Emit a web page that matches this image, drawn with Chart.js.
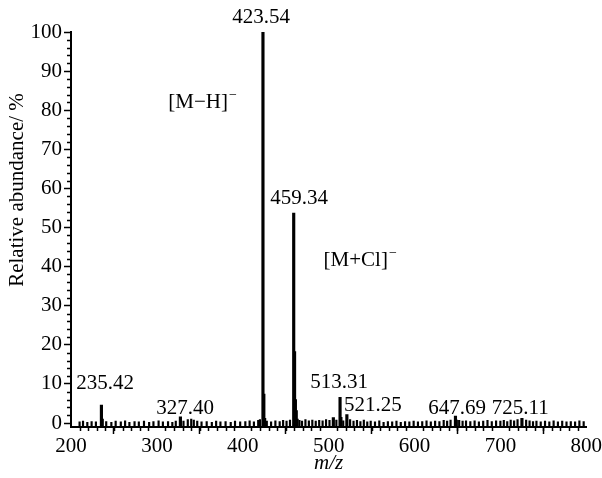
<!DOCTYPE html>
<html lang="en">
<head>
  <meta charset="UTF-8" />
  <title>Mass spectrum</title>
  <script src="https://cdn.jsdelivr.net/npm/chart.js"></script>
  <style>
    body { margin: 0; background: #fff; }
    #wrap { width: 602px; height: 478px; position: relative; }
  </style>
</head>
<body>
  <div id="wrap"><canvas id="ms"></canvas></div>

  <script>
    // main peaks (m/z, relative abundance %)
    const peakMz = [235.42, 236.4, 327.40, 423.54, 424.55, 425.5, 459.34, 460.35, 461.3, 462.3, 463.3,
                    505.5, 513.31, 514.3, 521.25, 647.69, 648.7, 725.11];
    const peakAb = [4.6, 1.0, 1.6, 100, 7.4, 1.2, 53.7, 18.3, 6.0, 3.2, 1.0,
                    1.4, 6.6, 1.5, 2.2, 1.8, 0.8, 1.2];

    // baseline noise
    const noiseMz = [210, 214, 219, 224, 229, 241, 247, 252, 258, 263, 268, 274, 279, 285, 291, 296,
                     302, 307, 313, 318, 322, 331, 336, 340, 343, 347, 352, 358, 364, 369, 374, 380,
                     386, 391, 397, 403, 408, 413, 418, 420, 428, 433, 438, 443, 447, 451, 455, 466,
                     469, 473, 477, 481, 485, 489, 493, 497, 501, 509, 517, 525, 529, 533, 537, 541,
                     545, 549, 554, 559, 564, 569, 574, 579, 584, 589, 594, 599, 604, 609, 614, 619,
                     624, 629, 634, 638, 642, 652, 656, 660, 665, 670, 675, 680, 685, 690, 695, 700,
                     704, 708, 712, 716, 720, 730, 734, 738, 742, 747, 752, 757, 762, 767, 772, 777,
                     782, 787, 792, 797];
    const noiseAb = [0.3, 0.5, 0.2, 0.4, 0.3, 0.4, 0.2, 0.5, 0.3, 0.6, 0.2, 0.4, 0.3, 0.5, 0.2, 0.4,
                     0.6, 0.3, 0.4, 0.2, 0.5, 0.5, 0.9, 1.0, 0.8, 0.5, 0.3, 0.4, 0.2, 0.5, 0.3, 0.4,
                     0.2, 0.5, 0.3, 0.4, 0.6, 0.3, 0.7, 0.9, 0.5, 0.3, 0.6, 0.4, 0.7, 0.5, 0.8, 0.7,
                     0.5, 0.9, 0.6, 0.8, 0.5, 0.7, 0.6, 0.9, 0.7, 0.8, 0.6, 0.9, 0.5, 0.7, 0.4, 0.8,
                     0.3, 0.5, 0.3, 0.6, 0.2, 0.4, 0.3, 0.5, 0.2, 0.4, 0.3, 0.5, 0.3, 0.4, 0.6, 0.3,
                     0.5, 0.4, 0.7, 0.5, 0.8, 0.7, 0.5, 0.6, 0.4, 0.6, 0.3, 0.5, 0.7, 0.4, 0.6, 0.5,
                     0.7, 0.4, 0.8, 0.6, 0.9, 0.8, 0.6, 0.4, 0.5, 0.3, 0.5, 0.3, 0.6, 0.3, 0.5, 0.3,
                     0.4, 0.3, 0.6, 0.4];

    const xTicks = [200, 300, 400, 500, 600, 700, 800];
    const yTicks = [0, 10, 20, 30, 40, 50, 60, 70, 80, 90, 100];

    // peak labels: text, anchor m/z, anchor abundance
    const labelText = ['423.54', '459.34', '235.42', '327.40', '513.31', '521.25', '647.69', '725.11'];
    const labelMz   = [421.4, 465.6, 239.6, 332.8, 512.2, 551.5, 649.7, 723.1];
    const labelAb   = [103.6, 57.5, 10.0, 3.8, 10.5, 4.6, 3.8, 3.8];

    // ion labels
    const ionText = ['[M\u2212H]', '[M+Cl]'];
    const ionMz   = [348, 531.6];
    const ionAb   = [82.1, 41.7];

    const Y_MIN = -1;
    const FONT = '"Liberation Serif", "Times New Roman", serif';

    const toXY = (xs, ys) => xs.map((x, i) => ({ x: x, y: ys[i] }));

    const textPlugin = {
      id: 'msText',
      afterDraw(chart) {
        const ctx = chart.ctx;
        const xs = chart.scales.x, ys = chart.scales.y;
        const area = chart.chartArea;
        ctx.save();
        ctx.strokeStyle = '#000';
        ctx.lineWidth = 1.5;
        // minor ticks
        ctx.beginPath();
        for (let v = 2; v < 100; v += 2) {
          if (v % 10 === 0) continue;
          const py = Math.round(ys.getPixelForValue(v)) + 0.5;
          ctx.moveTo(area.left - 4, py);
          ctx.lineTo(area.left, py);
        }
        for (let v = 210; v < 800; v += 10) {
          if (v % 100 === 0) continue;
          const px = Math.round(xs.getPixelForValue(v)) + 0.5;
          ctx.moveTo(px, area.bottom);
          ctx.lineTo(px, area.bottom + 4);
        }
        ctx.stroke();

        ctx.fillStyle = '#000';
        ctx.font = '21px ' + FONT;
        ctx.textAlign = 'center';
        ctx.textBaseline = 'middle';
        labelText.forEach((t, i) => {
          ctx.fillText(t, xs.getPixelForValue(labelMz[i]), ys.getPixelForValue(labelAb[i]));
        });
        ionText.forEach((t, i) => {
          const px = xs.getPixelForValue(ionMz[i]);
          const py = ys.getPixelForValue(ionAb[i]);
          ctx.font = '21px ' + FONT;
          ctx.textAlign = 'center';
          ctx.fillText(t, px, py);
          const w = ctx.measureText(t).width;
          ctx.font = '14px ' + FONT;
          ctx.textAlign = 'left';
          ctx.fillText('\u2212', px + w / 2 + 1, py - 7);
        });

        // axis titles
        ctx.font = '21px ' + FONT;
        ctx.textAlign = 'center';
        ctx.save();
        ctx.translate(17, 190);
        ctx.rotate(-Math.PI / 2);
        ctx.fillText('Relative abundance/ %', 0, 0);
        ctx.restore();
        ctx.font = 'italic 21px ' + FONT;
        ctx.fillText('m/z', (area.left + area.right) / 2, 463);
        ctx.restore();
      }
    };

    new Chart(document.getElementById('ms'), {
      type: 'bar',
      data: {
        datasets: [
          {
            data: toXY(noiseMz, noiseAb),
            backgroundColor: '#000',
            barThickness: 1.5,
            base: Y_MIN,
            grouped: false
          },
          {
            data: toXY(peakMz, peakAb),
            backgroundColor: '#000',
            barThickness: 2.5,
            base: Y_MIN,
            grouped: false
          }
        ]
      },
      options: {
        responsive: true,
        maintainAspectRatio: false,
        animation: false,
        layout: { padding: { top: 32, right: 14, left: 0, bottom: 0 } },
        plugins: {
          legend: { display: false },
          tooltip: { enabled: false },
          title: { display: false }
        },
        scales: {
          x: {
            type: 'linear',
            min: 200,
            max: 800,
            offset: false,
            afterFit: s => { s.height = 51; },
            afterBuildTicks: s => { s.ticks = xTicks.map(v => ({ value: v })); },
            grid: { drawOnChartArea: false, color: '#000', tickColor: '#000', tickLength: 7, tickWidth: 1.5 },
            border: { display: true, color: '#000', width: 2 },
            ticks: { color: '#000', padding: 0, maxRotation: 0, font: { family: FONT, size: 21 } }
          },
          y: {
            min: Y_MIN,
            max: 100,
            afterFit: s => { s.width = 71; },
            afterBuildTicks: s => { s.ticks = yTicks.map(v => ({ value: v })); },
            grid: { drawOnChartArea: false, color: '#000', tickColor: '#000', tickLength: 7, tickWidth: 1.5 },
            border: { display: true, color: '#000', width: 2 },
            ticks: { color: '#000', padding: 2, font: { family: FONT, size: 21 } }
          }
        }
      },
      plugins: [textPlugin]
    });
  </script>
</body>
</html>
